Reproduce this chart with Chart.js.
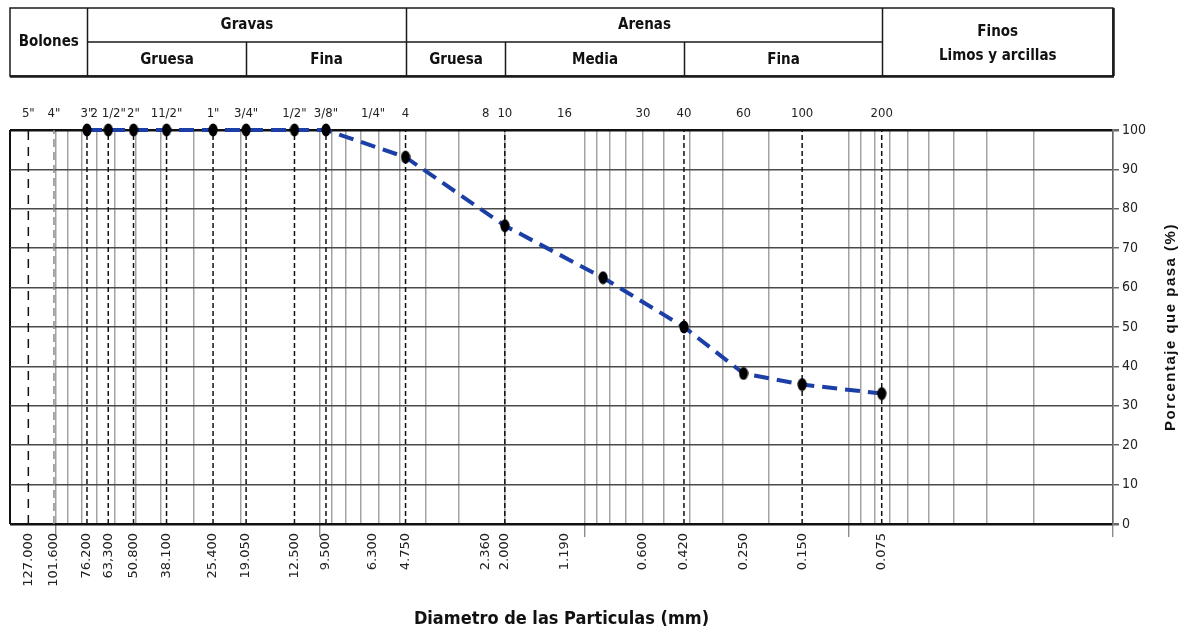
<!DOCTYPE html>
<html>
<head>
<meta charset="utf-8">
<title>Curva granulométrica</title>
<script src="https://cdn.jsdelivr.net/npm/chart.js@4/dist/chart.umd.min.js"></script>
<style>
    html, body { margin: 0; padding: 0; background: #fff; }
    #gsWrap { width: 1186px; height: 638px; position: relative; }
</style>
</head>
<body>
<div id="gsWrap"><canvas id="gsChart"></canvas></div>
<script>
'use strict';

// sieve openings (mm), top names and bottom labels
var sieveSizes = [127, 101.6, 76.2, 63.3, 50.8, 38.1, 25.4, 19.05, 12.5, 9.5, 6.3, 4.75, 2.36, 2.0, 1.19, 0.6, 0.42, 0.25, 0.15, 0.075];
var sieveNames = ['5"', '4"', '3"', '2 1/2"', '2"', '11/2"', '1"', '3/4"', '1/2"', '3/8"', '1/4"', '4', '8', '10', '16', '30', '40', '60', '100', '200'];
var sizeLabels = ['127.000', '101.600', '76.200', '63,300', '50.800', '38.100', '25.400', '19.050', '12.500', '9.500', '6.300', '4.750', '2.360', '2.000', '1.190', '0.600', '0.420', '0.250', '0.150', '0.075'];

// test results
var testSizes = [76.2, 63.3, 50.8, 38.1, 25.4, 19.05, 12.5, 9.5, 4.75, 2.0, 0.85, 0.42, 0.25, 0.15, 0.075];
var percentPassing = [100, 100, 100, 100, 100, 100, 100, 100, 93.1, 75.7, 62.5, 50.0, 38.2, 35.4, 33.1];

// dashed reference lines
var bigDashSizes = [127];
var greyDashSizes = [101.6];
var smallDashSizes = [76.2, 63.3, 50.8, 38.1, 25.4, 19.05, 12.5, 9.5, 4.75, 2.0, 0.42, 0.15, 0.075];

// header table (boundaries in mm)
var headTop = ['Bolones', 'Gravas', 'Arenas', 'Finos'];
var headTopBounds = [149, 76.2, 4.75, 0.075, 0.01];
var headSub = ['Gruesa', 'Fina', 'Gruesa', 'Media', 'Fina'];
var headSubBounds = [76.2, 19.05, 4.75, 2.0, 0.42, 0.075];

var xMin = 0.01;
var xMax = 149;
var yTicks = [0, 10, 20, 30, 40, 50, 60, 70, 80, 90, 100];

var gsNarrow = "'Liberation Sans Narrow', 'DejaVu Sans Condensed', 'Liberation Sans', sans-serif";
var gsWide = "'Liberation Sans', Arial, sans-serif";

function gsVLines(sizes) {
    var pts = [];
    sizes.forEach(function (s) {
        pts.push({ x: s, y: 0 }, { x: s, y: 100 }, { x: s, y: null });
    });
    return pts;
}

function gsBottomTicks() {
    var out = [];
    for (var e = -2; e <= 2; e++) {
        for (var k = 1; k <= 9; k++) {
            var v = k * Math.pow(10, e);
            if (v > xMax) break;
            out.push({ value: v, kind: k === 1 ? 'd' : 'g' });
        }
    }
    out.push({ value: xMax, kind: 'e' });
    sieveSizes.forEach(function (s, i) { out.push({ value: s, kind: 's', idx: i }); });
    return out;
}

function gsDot() {
    var c = document.createElement('canvas');
    c.width = 10; c.height = 14;
    var g = c.getContext('2d');
    g.fillStyle = '#000';
    g.beginPath();
    g.ellipse(5, 7, 4.6, 6.4, 0, 0, Math.PI * 2);
    g.fill();
    return c;
}

var gsHeaderPlugin = {
    id: 'gsHeader',
    afterDraw: function (chart) {
        var ctx = chart.ctx;
        var sx = chart.scales.x;
        var a = chart.chartArea;
        var top = 8, mid = 42, bot = 76;
        var px = function (v) { return Math.round(sx.getPixelForValue(v)) + 0.5; };

        ctx.save();
        ctx.strokeStyle = '#1a1a1a';
        ctx.lineWidth = 1.5;
        ctx.strokeRect(a.left, top, a.right - a.left, bot - top);
        ctx.lineWidth = 2.5;
        ctx.beginPath();
        ctx.moveTo(a.left, bot + 0.5); ctx.lineTo(a.right + 1, bot + 0.5);
        ctx.moveTo(a.right + 0.5, top); ctx.lineTo(a.right + 0.5, bot);
        ctx.stroke();

        ctx.lineWidth = 1.5;
        ctx.beginPath();
        for (var i = 1; i < headTopBounds.length - 1; i++) {
            ctx.moveTo(px(headTopBounds[i]), top);
            ctx.lineTo(px(headTopBounds[i]), bot);
        }
        ctx.moveTo(px(headSubBounds[0]), mid);
        ctx.lineTo(px(headSubBounds[headSubBounds.length - 1]), mid);
        for (var j = 1; j < headSubBounds.length - 1; j++) {
            if (headTopBounds.indexOf(headSubBounds[j]) >= 0) continue;
            ctx.moveTo(px(headSubBounds[j]), mid);
            ctx.lineTo(px(headSubBounds[j]), bot);
        }
        ctx.stroke();

        ctx.fillStyle = '#111';
        ctx.textAlign = 'center';
        ctx.textBaseline = 'middle';
        ctx.font = 'bold 15px ' + gsNarrow;
        var left = function (v) { return v >= xMax ? a.left : px(v); };
        var right = function (v) { return v <= xMin ? a.right : px(v); };
        for (var t = 0; t < headTop.length; t++) {
            var cx = (left(headTopBounds[t]) + right(headTopBounds[t + 1])) / 2;
            if (t === 0) ctx.fillText(headTop[t], cx, (top + bot) / 2);
            else if (t === headTop.length - 1) {
                ctx.fillText(headTop[t], cx, 32);
                ctx.fillText('Limos y arcillas', cx, 56);
            } else ctx.fillText(headTop[t], cx, 25);
        }
        for (var s = 0; s < headSub.length; s++) {
            var sc = (px(headSubBounds[s]) + px(headSubBounds[s + 1])) / 2;
            ctx.fillText(headSub[s], sc, 60);
        }

        // y axis title, reads bottom to top
        ctx.translate(1171, (a.top + a.bottom) / 2);
        ctx.rotate(-Math.PI / 2);
        ctx.font = 'bold 15px ' + gsWide;
        if ('letterSpacing' in ctx) ctx.letterSpacing = '1.5px';
        ctx.fillText('Porcentaje que pasa (%)', 0, 0);
        ctx.restore();
    }
};

var gsData = testSizes.map(function (s, i) { return { x: s, y: percentPassing[i] }; });

new Chart(document.getElementById('gsChart'), {
    type: 'line',
    data: {
        datasets: [
            {
                data: gsData,
                borderColor: '#1b3fa6',
                borderWidth: 4,
                borderDash: [15, 8],
                pointStyle: gsDot(),
                pointRadius: 6,
                tension: 0,
                clip: false,
                order: 0
            },
            {
                data: gsVLines(smallDashSizes),
                borderColor: '#111',
                borderWidth: 1.5,
                borderDash: [5, 3],
                pointRadius: 0,
                order: 1
            },
            {
                data: gsVLines(bigDashSizes),
                borderColor: '#111',
                borderWidth: 1.5,
                borderDash: [9, 7],
                pointRadius: 0,
                order: 1
            },
            {
                data: gsVLines(greyDashSizes),
                borderColor: '#8a8a8a',
                borderWidth: 1.5,
                borderDash: [8, 5],
                pointRadius: 0,
                order: 1
            }
        ]
    },
    options: {
        responsive: true,
        maintainAspectRatio: false,
        animation: false,
        events: [],
        layout: { padding: { left: 9, right: 0, top: 96, bottom: 0 } },
        plugins: {
            legend: { display: false },
            tooltip: { enabled: false }
        },
        scales: {
            x: {
                type: 'logarithmic',
                position: 'bottom',
                reverse: true,
                min: xMin,
                max: xMax,
                afterBuildTicks: function (scale) { scale.ticks = gsBottomTicks(); },
                afterFit: function (scale) { scale.height = 114; },
                border: { display: false },
                grid: {
                    color: function (c) {
                        var t = c.tick;
                        if (!t) return 'rgba(0,0,0,0)';
                        if (t.kind === 'e') return '#111';
                        if (t.kind === 'g' || t.kind === 'd') return '#a3a3a3';
                        return 'rgba(0,0,0,0)';
                    },
                    lineWidth: function (c) { return c.tick && c.tick.kind === 'e' ? 2 : 1.5; },
                    tickLength: 13,
                    tickColor: function (c) { return c.tick && c.tick.kind === 'd' ? '#777' : 'rgba(0,0,0,0)'; },
                    tickWidth: 1.2
                },
                ticks: {
                    autoSkip: false,
                    minRotation: 90,
                    maxRotation: 90,
                    padding: -4,
                    color: '#222',
                    font: { family: "'DejaVu Sans', sans-serif", size: 13 },
                    callback: function (v, i, ticks) {
                        var t = ticks[i];
                        return t && t.kind === 's' ? sizeLabels[t.idx] : '';
                    }
                },
                title: {
                    display: true,
                    text: 'Diametro de las Particulas (mm)',
                    color: '#111',
                    font: { family: gsNarrow, size: 18, weight: 'bold' },
                    padding: { top: 4, bottom: 8 }
                }
            },
            xTop: {
                type: 'logarithmic',
                position: 'top',
                reverse: true,
                min: xMin,
                max: xMax,
                afterBuildTicks: function (scale) {
                    scale.ticks = sieveSizes.map(function (s, i) { return { value: s, idx: i }; });
                },
                afterFit: function (scale) { scale.height = 34; },
                border: { display: false },
                grid: { display: false, drawTicks: false },
                ticks: {
                    autoSkip: false,
                    maxRotation: 0,
                    minRotation: 0,
                    padding: 9,
                    color: '#222',
                    font: { family: gsNarrow, size: 13 },
                    callback: function (v, i, ticks) { return sieveNames[ticks[i].idx]; }
                }
            },
            y: {
                position: 'right',
                min: 0,
                max: 100,
                afterBuildTicks: function (scale) {
                    scale.ticks = yTicks.map(function (v) { return { value: v }; });
                },
                afterFit: function (scale) { scale.width = 73; },
                border: { display: true, color: '#666', width: 1.5 },
                grid: {
                    color: function (c) {
                        var v = c.tick && c.tick.value;
                        return (v === 0 || v === 100) ? '#111' : '#4a4a4a';
                    },
                    lineWidth: function (c) {
                        var v = c.tick && c.tick.value;
                        return (v === 0 || v === 100) ? 2.5 : 1.5;
                    },
                    tickLength: 6,
                    tickColor: '#666'
                },
                ticks: {
                    padding: 3,
                    color: '#222',
                    font: { family: gsNarrow, size: 14 }
                }
            }
        }
    },
    plugins: [gsHeaderPlugin]
});
</script>
</body>
</html>
